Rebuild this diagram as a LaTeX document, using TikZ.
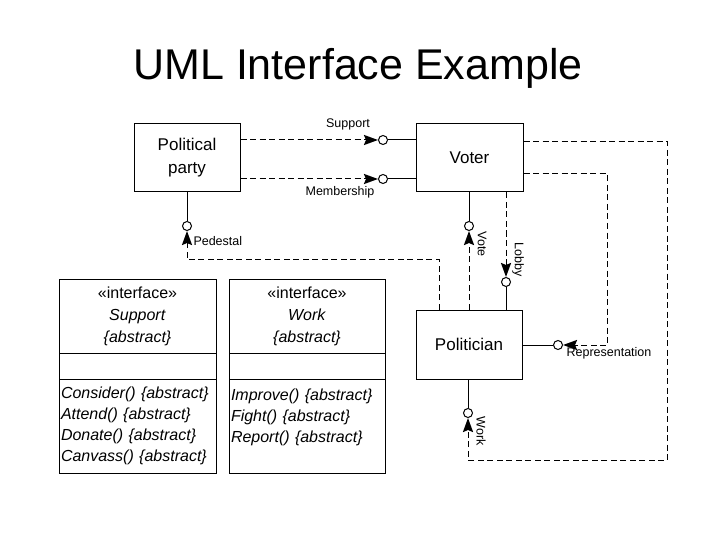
\documentclass[tikz,border=0pt]{standalone}
\usepackage{fontspec}
\setmainfont{Liberation Sans}
\usetikzlibrary{arrows.meta,calc}
\begin{document}
\begin{tikzpicture}[x=1pt,y=-1pt,line width=1pt,
  box/.style={draw,rectangle,inner sep=0pt,align=center,font=\fontsize{17}{23}\selectfont},
  ibox/.style={draw,rectangle,inner sep=0pt,align=center,font=\fontsize{16}{22}\selectfont},
  opbox/.style={draw,rectangle,inner sep=2pt,align=left,font=\fontsize{16}{20.8}\selectfont\itshape},
  iface/.style={draw,circle,minimum size=9pt,inner sep=0pt,fill=white},
  lbl/.style={font=\fontsize{12.5}{14}\selectfont,inner sep=0pt},
  dep/.style={dash pattern=on 6pt off 3.5pt,-{Stealth[length=14pt,width=10pt,inset=2pt,line width=2pt]}}]
\useasboundingbox (0,0) rectangle (720,540);
\node[font=\fontsize{43}{48}\selectfont] (title) at (358,68) {UML Interface Example};
% classes
\node[box,minimum width=106pt,minimum height=68pt] (party) at (187,158) {Political\\party};
\node[box,minimum width=107pt,minimum height=68pt] (voter) at (469.5,158) {Voter};
\node[box,minimum width=106pt,minimum height=69pt] (pol) at (469,344.5) {Politician};
% interface circles
\node[iface] (c1) at (383,140) {};
\node[iface] (c2) at (383,179) {};
\node[iface] (c3) at (187,226) {};
\node[iface] (c4) at (469,226) {};
\node[iface] (c5) at (506,282) {};
\node[iface] (c6) at (558,345) {};
\node[iface] (c7) at (468,413) {};
% Support / Membership
\draw[dep] (party.east |- c1) -- (c1.west);
\draw (c1.east) -- (voter.west |- c1);
\draw[dep] (party.east |- c2) -- (c2.west);
\draw (c2.east) -- (voter.west |- c2);
% Pedestal
\draw (party.south -| c3) -- (c3.north);
\draw[dep] ([xshift=-30pt]pol.north) -- ++(0,-50) -| (c3.south);
% Vote
\draw (voter.south -| c4) -- (c4.north);
\draw[dep] (pol.north -| c4) -- (c4.south);
% Lobby
\draw[dep] (voter.south -| c5) -- (c5.north);
\draw (c5.south) -- (pol.north -| c5);
% Representation
\draw (pol.east |- c6) -- (c6.west);
\draw[dep] ($(voter.east)+(0,16)$) -- ++(84,0) |- (c6.east);
% Work
\draw (pol.south -| c7) -- (c7.north);
\draw[dep] ($(voter.east)+(0,-16)$) -- ++(144,0) -- ++(0,318) -| (c7.south);
% labels
\node[lbl] (l1) at (348,124) {Support};
\node[lbl] (l2) at (340,192) {Membership};
\node[lbl,anchor=west] (l3) at (193,241) {Pedestal};
\node[lbl,rotate=-90] (l4) at (482,244) {Vote};
\node[lbl,rotate=-90] (l5) at (518,260) {Lobby};
\node[lbl] (l6) at (609,353) {Representation};
\node[lbl,rotate=-90] (l7) at (481,431) {Work};
% interface Support
\node[ibox,minimum width=157pt,minimum height=74pt] (s1) at (137.5,316) {«interface»\\\textit{Support}\\\textit{\{abstract\}}};
\node[ibox,minimum width=157pt,minimum height=26pt] (s2) at (137.5,366) {};
\node[opbox,minimum width=157pt,minimum height=94pt,text width=153pt] (s3) at (137.5,426) {Consider() \{abstract\}\\Attend() \{abstract\}\\Donate() \{abstract\}\\Canvass() \{abstract\}};
% interface Work
\node[ibox,minimum width=156pt,minimum height=74pt] (w1) at (307,316) {«interface»\\\textit{Work}\\\textit{\{abstract\}}};
\node[ibox,minimum width=156pt,minimum height=26pt] (w2) at (307,366) {};
\node[opbox,minimum width=156pt,minimum height=94pt,text width=152pt] (w3) at (307,426) {Improve() \{abstract\}\\Fight() \{abstract\}\\Report() \{abstract\}\\\mbox{}};
\end{tikzpicture}
\end{document}
